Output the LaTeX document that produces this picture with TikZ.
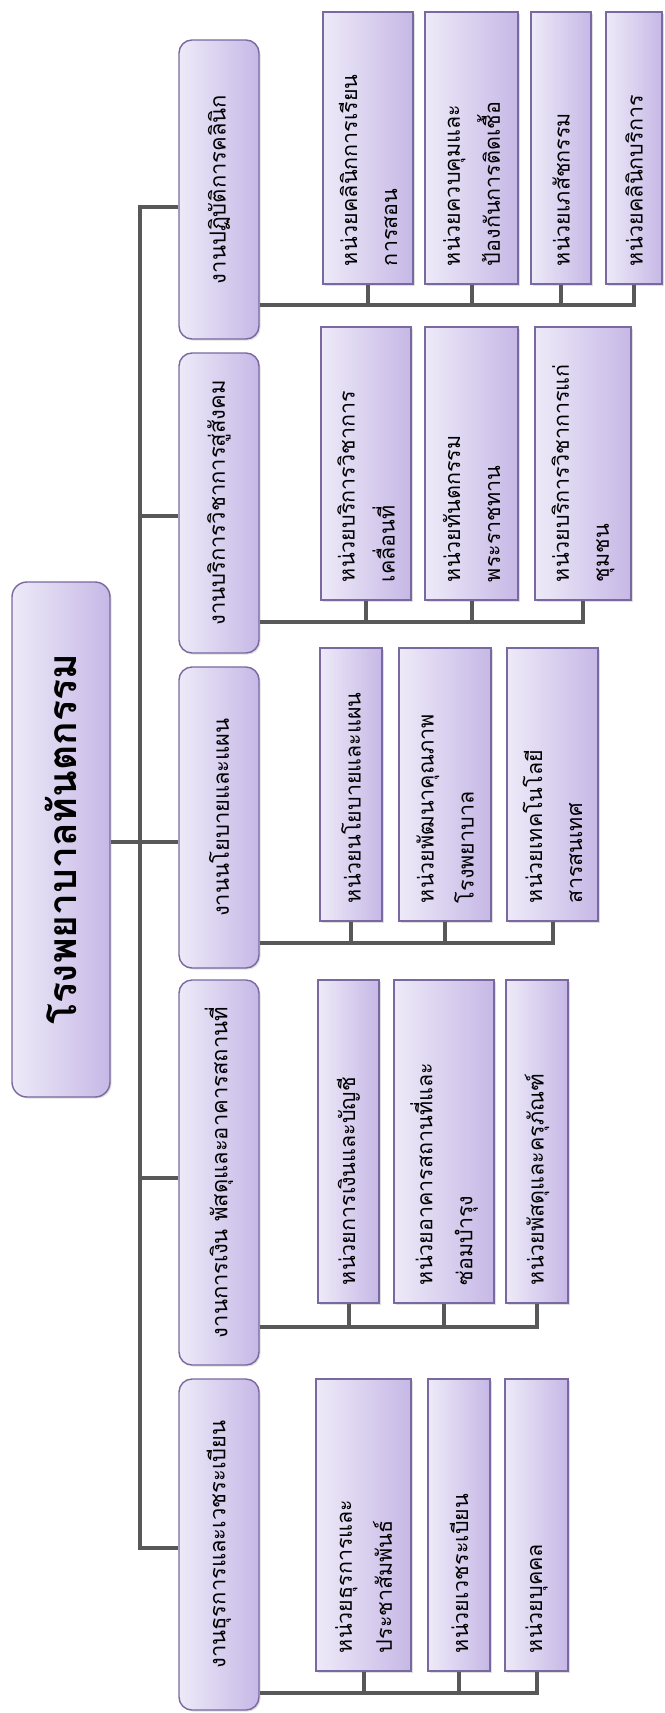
\documentclass[tikz,border=0pt]{standalone}
\usepackage{fontspec}
\usepackage{graphicx}
\setmainfont[Script=Thai]{Loma}
\usetikzlibrary{shadows}
\definecolor{lavL}{RGB}{238,234,248}
\definecolor{lavR}{RGB}{198,184,230}
\definecolor{bdr}{RGB}{122,104,160}
\definecolor{linkc}{RGB}{88,88,88}
\tikzset{
 boxbase/.style={draw=bdr, line width=1.4pt, left color=lavL, right color=lavR, inner sep=0pt,
   drop shadow={shadow xshift=1.5pt, shadow yshift=-1.5pt, opacity=0.25}},
 kidbox/.style={boxbase, font=\fontsize{21.5}{40}\selectfont},
 headbox/.style={boxbase, rounded corners=13pt, font=\fontsize{22}{26}\selectfont},
 rootbox/.style={boxbase, rounded corners=15pt, font=\fontsize{39}{44}\selectfont\bfseries},
 link/.style={draw=linkc, line width=4pt, line join=miter},
}
% #1 name, #2 x1, #3 y1, #4 x2, #5 y2, #6 text
\newcommand{\kid}[6]{\node[kidbox, minimum width={#4-#2}, minimum height={#5-#3}] (#1) at ({(#2+#4)/2},{(#3+#5)/2}) {\rotatebox{90}{\parbox{\dimexpr #5pt-#3pt-36pt\relax}{\raggedright #6}}};}
\newcommand{\head}[6]{\node[headbox, minimum width={#4-#2}, minimum height={#5-#3}] (#1) at ({(#2+#4)/2},{(#3+#5)/2}) {\rotatebox{90}{#6}};}
\begin{document}
\begin{tikzpicture}[x=1pt,y=-1pt]
\useasboundingbox (0,0) rectangle (664,1713);
\fill[white] (0,0) rectangle (664,1713);

% root
\node[rootbox, minimum width=98, minimum height=515] (root) at (61,839.5) {\rotatebox{90}{โรงพยาบาลทันตกรรม}};

% level 2
\head{la}{179}{40}{259}{339}{งานปฏิบัติการคลินิก}
\head{lb}{179}{353}{259}{653}{งานบริการวิชาการสู่สังคม}
\head{lc}{179}{667}{259}{968}{งานนโยบายและแผน}
\head{ld}{179}{980}{259}{1365}{งานการเงิน พัสดุและอาคารสถานที่}
\head{le}{179}{1379}{259}{1710}{งานธุรการและเวชระเบียน}

% group 1
\kid{k11}{323}{12}{413}{284}{หน่วยคลินิกการเรียน\\การสอน}
\kid{k12}{425}{12}{518}{284}{หน่วยควบคุมและ\\ป้องกันการติดเชื้อ}
\kid{k13}{531}{12}{591}{284}{หน่วยเภสัชกรรม}
\kid{k14}{606}{12}{662}{284}{หน่วยคลินิกบริการ}
% group 2
\kid{k21}{321}{327}{411}{600}{หน่วยบริการวิชาการ\\เคลื่อนที่}
\kid{k22}{425}{327}{518}{600}{หน่วยทันตกรรม\\พระราชทาน}
\kid{k23}{535}{327}{631}{600}{หน่วยบริการวิชาการแก่\\ชุมชน}
% group 3
\kid{k31}{320}{648}{382}{921}{หน่วยนโยบายและแผน}
\kid{k32}{399}{648}{491}{921}{หน่วยพัฒนาคุณภาพ\\โรงพยาบาล}
\kid{k33}{507}{648}{598}{921}{หน่วยเทคโนโลยี\\สารสนเทศ}
% group 4
\kid{k41}{318}{980}{379}{1303}{หน่วยการเงินและบัญชี}
\kid{k42}{394}{980}{494}{1303}{หน่วยอาคารสถานที่และ\\ซ่อมบำรุง}
\kid{k43}{506}{980}{568}{1303}{หน่วยพัสดุและครุภัณฑ์}
% group 5
\kid{k51}{316}{1379}{411}{1671}{หน่วยธุรการและ\\ประชาสัมพันธ์}
\kid{k52}{428}{1379}{490}{1671}{หน่วยเวชระเบียน}
\kid{k53}{505}{1379}{568}{1671}{หน่วยบุคคล}

% trunk junctions
\coordinate (j1) at (140,207);
\coordinate (j2) at (140,516);
\coordinate (j3) at (140,842);
\coordinate (j4) at (140,1178);
\coordinate (j5) at (140,1548);
\draw[link] (la.west |- j1) -- (j1) -- (j5) -- (le.west |- j5);
\draw[link] (j2) -- (lb.west |- j2);
\draw[link] (root.east |- j3) -- (lc.west |- j3);
\draw[link] (j4) -- (ld.west |- j4);

% buses
\coordinate (b1) at (k14.south |- 0,305);
\coordinate (b2) at (k23.south |- 0,622);
\coordinate (b3) at (k33.south |- 0,943);
\coordinate (b4) at (k43.south |- 0,1327);
\coordinate (b5) at (k53.south |- 0,1693);

\draw[link] (la.east |- b1) -- (b1) -- (k14.south);
\draw[link] (k11.south) -- (k11.south |- b1);
\draw[link] (k12.south) -- (k12.south |- b1);
\draw[link] (k13.south) -- (k13.south |- b1);

\draw[link] (lb.east |- b2) -- (b2) -- (k23.south);
\draw[link] (k21.south) -- (k21.south |- b2);
\draw[link] (k22.south) -- (k22.south |- b2);

\draw[link] (lc.east |- b3) -- (b3) -- (k33.south);
\draw[link] (k31.south) -- (k31.south |- b3);
\draw[link] (k32.south) -- (k32.south |- b3);

\draw[link] (ld.east |- b4) -- (b4) -- (k43.south);
\draw[link] (k41.south) -- (k41.south |- b4);
\draw[link] (k42.south) -- (k42.south |- b4);

\draw[link] (le.east |- b5) -- (b5) -- (k53.south);
\draw[link] (k51.south) -- (k51.south |- b5);
\draw[link] (k52.south) -- (k52.south |- b5);
\end{tikzpicture}
\end{document}
